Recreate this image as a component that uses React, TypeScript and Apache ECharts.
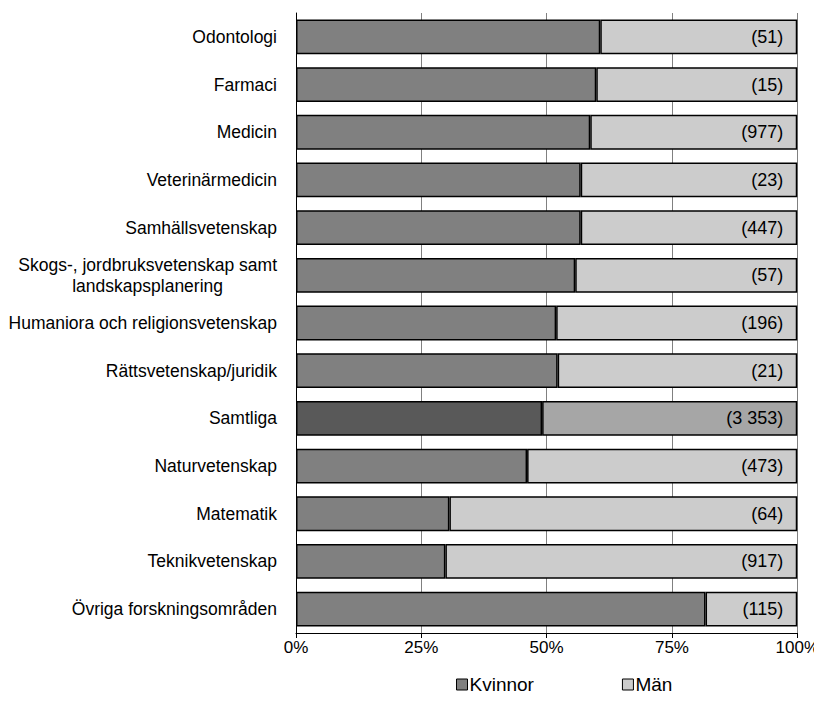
import React, { useEffect, useRef } from "react";
import * as echarts from "echarts";

const categories = [
  "Odontologi",
  "Farmaci",
  "Medicin",
  "Veterinärmedicin",
  "Samhällsvetenskap",
  "Skogs-, jordbruksvetenskap samt\nlandskapsplanering",
  "Humaniora och religionsvetenskap",
  "Rättsvetenskap/juridik",
  "Samtliga",
  "Naturvetenskap",
  "Matematik",
  "Teknikvetenskap",
  "Övriga forskningsområden",
];
const kvinnor = [60.7, 59.9, 58.7, 56.8, 56.8, 55.7, 51.9, 52.2, 49.1, 46.1, 30.6, 29.8, 81.7];
const man = [39.3, 40.1, 41.3, 43.2, 43.2, 44.3, 48.1, 47.8, 50.9, 53.9, 69.4, 70.2, 18.3];
const counts = ["(51)", "(15)", "(977)", "(23)", "(447)", "(57)", "(196)", "(21)", "(3 353)", "(473)", "(64)", "(917)", "(115)"];
const xTicks = ["0%", "25%", "50%", "75%", "100%"];
const seriesNames = ["Kvinnor", "Män"];
const highlight = "Samtliga";

const FONT = "'Liberation Sans', Arial, sans-serif";

export default function App() {
  const ref = useRef<HTMLDivElement>(null);
  useEffect(() => {
    if (!ref.current) return;
    const chart = echarts.init(ref.current, undefined, { renderer: "svg" });
    const kColor = "#808080";
    const mColor = "#cccccc";
    const kDark = "#595959";
    const mDark = "#a6a6a6";
    chart.setOption({
      animation: false,
      textStyle: { fontFamily: FONT },
      grid: { left: 296, right: 24, top: 13, bottom: 73 },
      legend: {
        left: 451,
        top: 670,
        itemWidth: 11,
        itemHeight: 11,
        itemGap: 88,
        icon: "rect",
        itemStyle: { borderColor: "#000", borderWidth: 1 },
        textStyle: { fontSize: 19, color: "#000", fontFamily: FONT, padding: [0, 0, 0, -3] },
        data: seriesNames,
      },
      xAxis: {
        type: "value",
        min: 0,
        max: 100,
        interval: 25,
        axisLine: { show: true, lineStyle: { color: "#000", width: 1 } },
        axisTick: { show: true, length: 5, lineStyle: { color: "#000" } },
        splitLine: { show: true, lineStyle: { color: "#808080", width: 1 } },
        axisLabel: {
          fontSize: 17,
          color: "#000",
          margin: 6,
          formatter: (v: number) => xTicks[Math.round(v / 25)],
        },
      },
      yAxis: {
        type: "category",
        inverse: true,
        data: categories,
        axisLine: { show: true, lineStyle: { color: "#000", width: 1 } },
        axisTick: { show: false },
        axisLabel: {
          fontSize: 17.5,
          color: "#000",
          margin: 19,
          lineHeight: 21,
          formatter: (v: string) => {
            const parts = v.split("\n");
            if (parts.length === 1) return v;
            return parts.map((p) => `{c|${p}}`).join("\n");
          },
          rich: { c: { align: "center", fontSize: 17.5, lineHeight: 21, color: "#000" } },
        },
      },
      series: [
        {
          name: seriesNames[0],
          type: "bar",
          stack: "total",
          barWidth: "73%",
          itemStyle: { color: kColor, borderColor: "#000", borderWidth: 1.5 },
          data: kvinnor.map((v, i) => ({
            value: v,
            itemStyle: categories[i] === highlight ? { color: kDark } : undefined,
          })),
        },
        {
          name: seriesNames[1],
          type: "bar",
          stack: "total",
          barWidth: "73%",
          itemStyle: { color: mColor, borderColor: "#000", borderWidth: 1.5 },
          label: {
            show: true,
            position: "insideRight",
            distance: 14,
            fontSize: 18,
            color: "#000",
            fontFamily: FONT,
            formatter: (p: any) => counts[p.dataIndex],
          },
          data: man.map((v, i) => ({
            value: v,
            itemStyle: categories[i] === highlight ? { color: mDark } : undefined,
          })),
        },
      ],
    });
    return () => chart.dispose();
  }, []);
  return <div ref={ref} style={{ width: 822, height: 706, margin: -8 }} />;
}
